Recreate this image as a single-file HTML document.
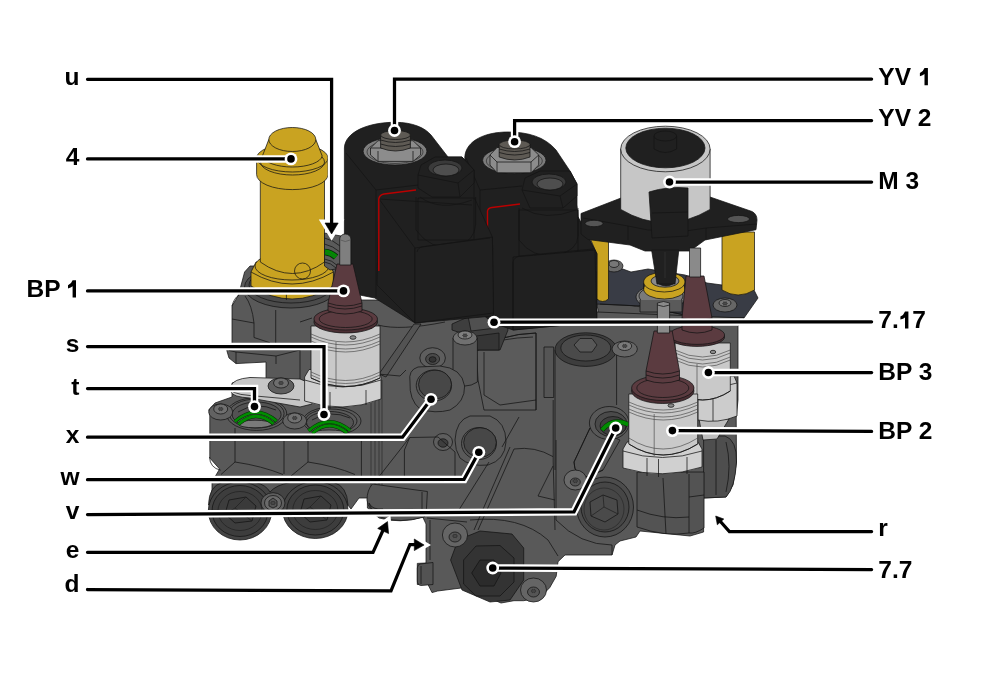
<!DOCTYPE html>
<html><head><meta charset="utf-8"><style>
html,body{margin:0;padding:0;background:#fff;width:985px;height:689px;overflow:hidden}
svg{display:block}
text{font-family:"Liberation Sans",sans-serif;font-weight:bold;font-size:24.5px;fill:#000}
svg{will-change:transform}
</style></head><body>
<svg width="985" height="689" viewBox="0 0 985 689">
<rect width="985" height="689" fill="#fff"/>
<g id="machine" stroke="#141414" stroke-width="0.75" stroke-linejoin="round">
<!-- ===== BACK: plate & posts behind M3 ===== -->
<path d="M596,300 L600,320 L740,322 L744,318 L700,316 Z" fill="#555"/>
<path d="M596,272 L610,266 L620,268 L631,272 L648,269 L685,275 L707,283 L722,285 L754,290 L758,298 L744,318 L700,318 L640,306 L596,304 Z" fill="#393c45"/>
<path d="M600,304 L640,306 L700,318 L744,318" fill="none"/>
<ellipse cx="614" cy="266" rx="9" ry="6" fill="#6a6a6a"/>
<ellipse cx="614" cy="264" rx="5" ry="3.5" fill="#777"/>
<ellipse cx="725" cy="305" rx="12" ry="7" fill="#666"/>
<ellipse cx="725" cy="303" rx="6" ry="3.5" fill="#777"/>
<path d="M590,238 L608.5,238 L608.5,299 Q602.6,304 596.8,299 L596.8,254 Z" fill="#c9a321"/>
<path d="M722,232 L754.5,232 L754.5,290 Q738,300 722,290 Z" fill="#c9a321"/>

<!-- ===== MAIN BODY SILHOUETTE ===== -->
<path d="M238.5,295 L244.6,272 L250,266 L335,266 L345,280 L345,300 L595,300 L597,312 L744,318 L738,326 L738,400 L736.2,418 L736.5,462 L733,485 L726,497 L703.6,498 L703.6,532 L690,536 L660,533 L640,531 L636,537 L620,541 L615,545 L612,555 L565,555 L558,561.7 L556.2,576.3 L549.7,587.7 L540,597.5 L523.7,600.7 L514,600.7 L501,603 L488,597.5 L475,592.6 L463.6,587.7 L437.6,591 L432,592.6 L428,584.5 L417.3,584.5 L417.3,563.4 L426,563 L426,524 L422.7,517 Q400,524 379,518 L367.4,508 L367.4,498 L359,498 L351,509 L340,495 L212,495 L212,482 L219.6,469 L209.8,458 L209.8,412 L208.7,410 L215,403 L232,397 L232,383 L250,378 L266,379 L266,362 L236,363.6 L229,358 L226.8,350.5 L232,345 L232,306 Z" fill="#595959"/>

<!-- ===== upper-left block under yellow ===== -->
<path d="M232,319 L254,323 L254,337.5 L269.8,342.7 M275.7,310 L275.7,343 M245,296 Q252,305 254,323 M232,306 Q234,298 239,295" fill="none"/>
<path d="M229,350.5 L236,352 L276,356 L276,364 M236,352 L236,363.6 M276,356 L300,350 L300,379" fill="none"/>
<path d="M300,322 L312,318" fill="none"/>
<!-- ===== lower-left block (ports t,s) ===== -->
<path d="M235,428 L235,462 M284,434 L284,474 M308,436 L308,462 M361.4,440 L361.4,476" fill="none"/>
<path d="M209.5,457 Q210,468 220.7,470.2 M235,462 Q262,466 283,474.5 M235,462 L221,474.5 M308,462 Q335,466 355,474.5 M308,462 L291,476" fill="none"/>
<path d="M212,482 L236,480 M262,482 L290,478" fill="none" stroke="#333"/>
<!-- port t -->
<ellipse cx="256.6" cy="414" rx="30.2" ry="16.4" fill="#5a5a5a"/>
<ellipse cx="256.6" cy="413.5" rx="27.5" ry="14.5" fill="none"/>
<ellipse cx="256.6" cy="414.5" rx="24.5" ry="12.5" fill="#525252"/>
<path d="M238,412 Q256,401 276,410" fill="none"/>
<ellipse cx="255" cy="424" rx="17" ry="3.8" fill="#7a7a7a"/>
<path d="M234.8,421.5 Q255.6,403.5 276.5,421" fill="none" stroke="#0a2a0a" stroke-width="3.6"/>
<path d="M238.5,424.3 Q255.6,408.5 273.5,423.8" fill="none" stroke="#0a2a0a" stroke-width="3.6"/>
<path d="M234.8,421.5 Q255.6,403.5 276.5,421" fill="none" stroke="#008c00" stroke-width="2.7"/>
<path d="M238.5,424.3 Q255.6,408.5 273.5,423.8" fill="none" stroke="#008c00" stroke-width="2.7"/>
<!-- port s -->
<ellipse cx="332" cy="421" rx="29" ry="14" fill="#5a5a5a"/>
<ellipse cx="331" cy="421" rx="26" ry="12" fill="none"/>
<ellipse cx="330" cy="422.5" rx="23.5" ry="11" fill="#545454"/>
<path d="M312,420 Q330,409 350,418" fill="none"/>
<ellipse cx="329" cy="433" rx="17" ry="3" fill="#7a7a7a"/>
<path d="M308.5,430.8 Q329,413 350.2,430.5" fill="none" stroke="#0a2a0a" stroke-width="3.6"/>
<path d="M312.5,433.3 Q329,418 347,433" fill="none" stroke="#0a2a0a" stroke-width="3.6"/>
<path d="M308.5,430.8 Q329,413 350.2,430.5" fill="none" stroke="#008c00" stroke-width="2.7"/>
<path d="M312.5,433.3 Q329,418 347,433" fill="none" stroke="#008c00" stroke-width="2.7"/>
<!-- screws near ports -->
<ellipse cx="220.7" cy="412" rx="12" ry="8" fill="#626262"/>
<ellipse cx="220.7" cy="409" rx="7" ry="5" fill="#707070"/>
<ellipse cx="294.7" cy="421" rx="12" ry="8" fill="#626262"/>
<ellipse cx="294.7" cy="418" rx="7" ry="5" fill="#707070"/>

<!-- ===== center body features ===== -->
<!-- shadow arc under YV1 -->
<path d="M378,325 Q400,331 445,322" fill="none"/>
<!-- diagonal rib -->
<path d="M379,374 L414,324 L421,324 L386,377 Z" fill="#535353"/>
<path d="M378,374 L400,376 L406,370" fill="none"/>
<!-- vertical pipe strip -->
<path d="M371,382 L371,500 M375,382 L375,500 M379,380 L379,500 M382,380 L382,497" fill="none" stroke="#222" stroke-width="0.6"/>
<!-- boss with hole -->
<ellipse cx="432.6" cy="358" rx="12.8" ry="10.3" fill="#5e5e5e"/>
<ellipse cx="432.6" cy="359" rx="7" ry="5.5" fill="#4a4a4a"/>
<ellipse cx="432.6" cy="359.5" rx="3.5" ry="2.8" fill="#333"/>
<!-- big cylinder boss -->
<path d="M476.4,351 Q500,334 536,333 L536,410 L484,410 L478,380 Z" fill="#5b5b5b"/>
<path d="M476.4,351 Q500,334 536,333 M480,347 Q500,338 533,337 M536,333 L536,410 M484,352 L484,395 L500,405 L536,400" fill="none"/>
<!-- 7.17 clip -->
<path d="M452,324 L470,316 L505,312 L508,330 L500,350 L476,350 L470,336 L452,330 Z" fill="#3e3e3e"/>
<path d="M468,316 L493.5,313 L496,328 L471,331 Z" fill="#505050"/>
<path d="M476,336 L499,333 L499,350 L477,350 Z" fill="#353535"/>
<!-- screw column -->
<path d="M453,338 L453,382 Q465,390 477.4,382 L477.4,338 Z" fill="#575757"/>
<ellipse cx="465" cy="338" rx="12" ry="7" fill="#707070"/>
<ellipse cx="465" cy="335" rx="7" ry="4" fill="#808080"/>
<!-- vertical rib right of cylinder -->
<path d="M544,347 L553.7,347 L553.7,397.5 L544,397.5 Z" fill="#555"/>
<!-- hex plug top -->
<path d="M555,350 L555,440 L616.6,440 L616.6,350 Z" fill="#565656" stroke="none"/>
<path d="M555,350 L555,470 M616.6,350 L616.6,405" fill="none"/>
<ellipse cx="585.8" cy="349.6" rx="30.8" ry="16.8" fill="#3d3d3d"/>
<ellipse cx="585.8" cy="348" rx="25" ry="13" fill="#4a4a4a"/>
<path d="M574,345 L580,338.5 L592,338.5 L597,345 L592,352 L580,352 Z" fill="#585858"/>
<ellipse cx="624.7" cy="349" rx="12.7" ry="8" fill="#666"/>
<ellipse cx="624.7" cy="346" rx="7" ry="4.5" fill="#7a7a7a"/>
<!-- port x housing -->
<path d="M410,382 Q408,370 418,367 L440,366 Q462,368 464.6,386 Q465,402 450,410 Q435,414 420,409 Q409,400 410,382 Z" fill="#5a5a5a"/>
<ellipse cx="433.9" cy="385.5" rx="17.7" ry="15.5" fill="#555"/>
<ellipse cx="435" cy="384.5" rx="16.5" ry="14.3" fill="#474747"/>
<!-- port w housing -->
<path d="M455,440 Q456,420 470,416 L490,416 Q506,422 506,442 Q505,460 488,465 Q470,467 460,458 Q455,450 455,440 Z" fill="#5a5a5a"/>
<ellipse cx="479" cy="443.5" rx="17.5" ry="16" fill="#555"/>
<ellipse cx="480" cy="442.5" rx="16.3" ry="14.8" fill="#474747"/>
<ellipse cx="443" cy="442" rx="9.5" ry="8.5" fill="#5e5e5e"/>
<ellipse cx="443" cy="443" rx="5" ry="4.2" fill="#3e3e3e"/>
<!-- pocket below x -->
<path d="M409.7,437.5 L438,437 L455,452 L455,477.5 L404.4,477.5 L404.4,450 Z" fill="none"/>
<path d="M409.7,437.5 L378.3,477.5" fill="none"/>
<!-- chamfer lines down center -->
<path d="M510,447 L474,530 M514,449 L478,530 M519,417 L502,447 M489,462 L457,513 M514,449 Q535,446 553,456.6 M553.2,400 L553.2,462 L555,530 M553,466 L538,496 L555,500 M427,518 L467,522" fill="none"/>
<!-- port v housing -->
<path d="M590,428 L574,462 Q574,476 588,477 L603,470 L620,440 Z" fill="#565656"/>
<path d="M590,428 L574,462 Q574,476 588,477 L603,470" fill="none"/>
<ellipse cx="609.2" cy="423" rx="19.8" ry="16.5" fill="#585858"/>
<ellipse cx="611" cy="424" rx="16" ry="12.5" fill="#4a4a4a"/>
<ellipse cx="613" cy="426" rx="13" ry="9.5" fill="#3e3e3e"/>
<path d="M602,430 Q613,417 628.5,424.5" fill="none" stroke="#0a2a0a" stroke-width="5"/>
<path d="M602,430 Q613,417 628.5,424.5" fill="none" stroke="#008c00" stroke-width="3.8"/>
<!-- screw at v -->
<ellipse cx="575.3" cy="480" rx="11.3" ry="10" fill="#6a6a6a"/>
<ellipse cx="575.3" cy="482" rx="5" ry="4" fill="#555"/>


<!-- ===== center bottom cylinder end ===== -->
<path d="M372.5,484 L427.4,491.5 L426.4,510 L424.3,517 Q400,524 380,517 Q368,510 367,500 Q367,490 372.5,484 Z" fill="#575757"/>
<path d="M369,503 Q372,510 383,509 L381,515 Q371,512 369,503 Z" fill="#4a4a4a"/>
<path d="M422,492 L422,513" fill="none"/>
<!-- ===== plugs bottom left ===== -->
<path d="M208.5,505 Q209,486 222,482.6 L256,482.6 Q266,485 270,492 Q276,485 290,482.6 L334,482.6 Q347,486 348,505 Z" fill="#434343"/>
<ellipse cx="240" cy="511" rx="31.7" ry="29" fill="#444"/>
<ellipse cx="240" cy="511" rx="28" ry="25.5" fill="#3d3d3d"/>
<ellipse cx="240" cy="511" rx="22" ry="19.5" fill="none" stroke="#222"/>
<path d="M229,500 L246,497 L256,506 L252,521 L235,523 L225,514 Z" fill="#3a3a3a"/>
<path d="M235,508 L246,497 M235,508 L225,514 M235,508 L252,521" fill="none" stroke="#222"/>
<ellipse cx="315.3" cy="510" rx="32.7" ry="28.5" fill="#444"/>
<ellipse cx="315.3" cy="510" rx="28.5" ry="25" fill="#3d3d3d"/>
<ellipse cx="315.3" cy="510" rx="22.5" ry="19.5" fill="none" stroke="#222"/>
<path d="M304,499 L321,496 L331,505 L327,520 L310,522 L300,513 Z" fill="#3a3a3a"/>
<path d="M310,507 L321,496 M310,507 L300,513 M310,507 L327,520" fill="none" stroke="#222"/>
<ellipse cx="273" cy="503" rx="12" ry="10.3" fill="#5e5e5e"/>
<ellipse cx="273" cy="503" rx="8.5" ry="7.5" fill="#6a6a6a"/>
<path d="M269,501 L273,498 L277,501 L277,506 L273,508 L269,506 Z" fill="#555"/>

<!-- ===== lower block 7.7 ===== -->
<path d="M430,520 L430,560" fill="none"/>
<path d="M450.6,560 L458,540 L480,531 L512,534 L523.7,548 L523.7,580 L510,600 L490,602 L462,590 Z" fill="#383838"/>
<path d="M463.6,560 L476,546 L500,545.5 L514,558 L514,582 L500,596 L476,596 L463.6,584 Z" fill="#333"/>
<path d="M471.7,573 L480,560 L494,560 L501,573 L494,586 L480,586 Z" fill="#2b2b2b"/>
<ellipse cx="455" cy="535" rx="12.6" ry="12" fill="#656565"/>
<ellipse cx="455" cy="537" rx="6" ry="5" fill="#555"/>
<ellipse cx="533.5" cy="590" rx="13" ry="12" fill="#656565"/>
<ellipse cx="533.5" cy="592" rx="6" ry="5" fill="#555"/>
<path d="M420,564 L433,562.5 L433,584.5 L421,585.5 Q417,585 417.3,580 L417.3,568 Q417.5,564.5 420,564 Z" fill="#535353"/>
<path d="M421,566 L421,584" fill="none"/>
<path d="M470,520 Q520,515 548,540 L558,556" fill="none"/>
<!-- ===== right bottom plug ===== -->
<path d="M556,440 L556,520 Q580,545 612,545 L612,555" fill="none"/>
<ellipse cx="605" cy="507" rx="28.5" ry="30" fill="#4c4c4c"/>
<ellipse cx="605" cy="507" rx="24" ry="25" fill="#464646"/>
<ellipse cx="604" cy="509" rx="20" ry="21" fill="none" stroke="#2a2a2a"/>
<path d="M590,502 L603,495 L617,500 L618,514 L605,522 L591,516 Z" fill="#4a4a4a"/>
<path d="M604,507 L603,495 M604,507 L591,516 M604,507 L618,514" fill="none" stroke="#222"/>
<!-- ===== right side dark part ===== -->
<path d="M703.6,436 L725,436 Q737,440 736.5,462 Q735,488 726,497 L703.6,498 Z" fill="#4e4e4e"/>
<path d="M716,440 L716,495 M726,442 Q732,466 726,492" fill="none"/>
<!-- torx marks -->
<path d="M223.3,409.0 L222.1,409.6 L222.0,410.8 L220.7,410.2 L219.4,410.8 L219.3,409.6 L218.1,409.0 L219.3,408.4 L219.4,407.2 L220.7,407.8 L222.0,407.2 L222.1,408.4 Z" fill="#4a4a4a" stroke="#222" stroke-width="0.5"/>
<path d="M297.3,418.0 L296.1,418.6 L296.0,419.8 L294.7,419.2 L293.4,419.8 L293.3,418.6 L292.1,418.0 L293.3,417.4 L293.4,416.2 L294.7,416.8 L296.0,416.2 L296.1,417.4 Z" fill="#4a4a4a" stroke="#222" stroke-width="0.5"/>
<path d="M467.6,335.5 L466.4,336.1 L466.3,337.3 L465.0,336.7 L463.7,337.3 L463.6,336.1 L462.4,335.5 L463.6,334.9 L463.7,333.7 L465.0,334.3 L466.3,333.7 L466.4,334.9 Z" fill="#4a4a4a" stroke="#222" stroke-width="0.5"/>
<path d="M627.3,346.0 L626.1,346.6 L626.0,347.8 L624.7,347.2 L623.4,347.8 L623.3,346.6 L622.1,346.0 L623.3,345.4 L623.4,344.2 L624.7,344.8 L626.0,344.2 L626.1,345.4 Z" fill="#4a4a4a" stroke="#222" stroke-width="0.5"/>
<path d="M577.9,481.0 L576.7,481.6 L576.6,482.8 L575.3,482.2 L574.0,482.8 L573.9,481.6 L572.7,481.0 L573.9,480.4 L574.0,479.2 L575.3,479.8 L576.6,479.2 L576.7,480.4 Z" fill="#4a4a4a" stroke="#222" stroke-width="0.5"/>
<path d="M275.6,503.0 L274.4,503.6 L274.3,504.8 L273.0,504.2 L271.7,504.8 L271.6,503.6 L270.4,503.0 L271.6,502.4 L271.7,501.2 L273.0,501.8 L274.3,501.2 L274.4,502.4 Z" fill="#4a4a4a" stroke="#222" stroke-width="0.5"/>
<path d="M457.6,536.0 L456.4,536.6 L456.3,537.8 L455.0,537.2 L453.7,537.8 L453.6,536.6 L452.4,536.0 L453.6,535.4 L453.7,534.2 L455.0,534.8 L456.3,534.2 L456.4,535.4 Z" fill="#4a4a4a" stroke="#222" stroke-width="0.5"/>
<path d="M536.1,591.0 L534.9,591.6 L534.8,592.8 L533.5,592.2 L532.2,592.8 L532.1,591.6 L530.9,591.0 L532.1,590.4 L532.2,589.2 L533.5,589.8 L534.8,589.2 L534.9,590.4 Z" fill="#4a4a4a" stroke="#222" stroke-width="0.5"/>
<path d="M727.6,303.5 L726.4,304.1 L726.3,305.3 L725.0,304.7 L723.7,305.3 L723.6,304.1 L722.4,303.5 L723.6,302.9 L723.7,301.7 L725.0,302.3 L726.3,301.7 L726.4,302.9 Z" fill="#4a4a4a" stroke="#222" stroke-width="0.5"/>


<!-- ===== light bracket (under BP1) ===== -->
<path d="M231,386 Q233,379 250,377.5 L300,379 L312,384 L312,404 L300,407 L250,398 Q233,397 231,392 Z" fill="#c6c6c6"/>
<path d="M233,392 Q240,395 250,395.5 L300,400" fill="none"/>
<ellipse cx="281" cy="386" rx="13" ry="8" fill="#5e5e5e"/>
<ellipse cx="281" cy="383" rx="7.5" ry="5" fill="#6e6e6e"/>
<path d="M283.6,383.0 L282.4,383.6 L282.3,384.8 L281.0,384.2 L279.7,384.8 L279.6,383.6 L278.4,383.0 L279.6,382.4 L279.7,381.2 L281.0,381.8 L282.3,381.2 L282.4,382.4 Z" fill="#4a4a4a" stroke="#222" stroke-width="0.5"/>

<!-- ===== yellow ring under M3 ===== -->
<ellipse cx="661" cy="297" rx="25" ry="12" fill="#7a7a7a"/>
<ellipse cx="661" cy="296" rx="22" ry="10" fill="none"/>
<path d="M640,300 L640,312 L682,312 L682,300" fill="#5a5a5a"/>
<ellipse cx="664.3" cy="289" rx="20.7" ry="10" fill="#c9a321"/>
<path d="M643.6,283 L643.6,289 M685,283 L685,289" fill="none"/>
<ellipse cx="664.3" cy="282" rx="20.7" ry="10" fill="#c9a321"/>
<ellipse cx="665" cy="281" rx="14" ry="6.2" fill="#8a8a8a"/>
<path d="M657,268 L675,268 L673,284 Q666,288 659,284 Z" fill="#202020"/>

<!-- ===== YV2 solenoid ===== -->
<path d="M465,300 L464.8,157 C466,140 486,132 508,132 C528,132 545,137 556,150 L570,171 L577,184 L577,205 L578,217 L597,254 L596.8,322 L513,330 L493,323 Z" fill="#202020"/>
<path d="M466,158 L480,190 L480,300 M480,190 L522,186" fill="none"/>
<path d="M487.5,230 L487.5,211 Q488,208 492,207.5 L520,204" fill="none" stroke="#b00" stroke-width="1.4"/>
<ellipse cx="514.3" cy="160.3" rx="31.7" ry="13.3" fill="#7c7c7c"/>
<ellipse cx="514.3" cy="161" rx="28" ry="11" fill="none" stroke="#333"/>
<path d="M490,155 L497,147.5 L531,147.5 L538.7,155 L538.7,165 L531,172.8 L497,172.8 L490,165 Z" fill="#8c8c8c"/>
<path d="M497,162 L497,172.8 M531,162 L531,172.8 M490,155 L497,162 L531,162 L538.7,155" fill="none"/>
<path d="M499.2,144.5 L499.2,157 Q514.6,163 530,157 L530,144.5 Z" fill="#5e5a54"/>
<ellipse cx="514.6" cy="144.5" rx="15.4" ry="4.5" fill="#5e5a54"/>
<path d="M499.2,149 Q514.6,154 530,149 M499.2,152.5 Q514.6,157.5 530,152.5" fill="none"/>
<path d="M519,210 L519,260 L578,260 L578,210 Z" fill="#202020"/>
<path d="M522,190 L525,178 L540,171 L570,171 L577,184 L577,196 L563,208 L530,208 Z" fill="#202020"/>
<path d="M522,190 L560,196 L577,184 M560,196 L563,208" fill="none"/>
<path d="M519,208 L519,240 Q532,258 556,256 Q578,250 578,236 L578,208 M522,208 Q545,222 576,210" fill="none"/>
<ellipse cx="549" cy="182" rx="17" ry="8" fill="#3a3a3a"/>
<ellipse cx="550" cy="184" rx="13" ry="6" fill="#4e4e4e"/>
<path d="M513,257 L595,250 L596.8,322 L513,330 Z" fill="#202020"/>
<path d="M578,217 L597,254" fill="none"/>
<path d="M513,262 L513,330 M513,262 Q514,257 520,256 L593,249" fill="none"/>

<!-- ===== M3 bracket + motor ===== -->
<path d="M581,213.5 L621,198 L710,197 L752,211.5 Q757,214 757,220 L756,229.7 L705,240 L690,251 L645,251 L630,245 L588,239.5 L581,234 Z" fill="#202020"/>
<path d="M583,218 L628,226 L628,240 M757,224 L706,228 L706,240 M628,226 Q667,236 706,228" fill="none"/>
<path d="M651.6,250 L678.8,250 L675,284 L657,284 Z" fill="#202020"/>
<path d="M665,252 L665,278" fill="none" stroke="#333"/>
<path d="M620.7,149 L620.7,209.4 Q665.4,236 710.1,209.4 L710.1,149 Z" fill="#c6c6c6"/>
<ellipse cx="665.4" cy="149" rx="44.7" ry="22.8" fill="#c6c6c6"/>
<ellipse cx="665.4" cy="148" rx="39.6" ry="19.8" fill="#202020"/>
<path d="M654,136 L654,149 Q665.3,156 676.6,149 L676.6,136 Z" fill="#202020"/>
<ellipse cx="665.3" cy="136" rx="11.3" ry="5" fill="#202020"/>
<path d="M649,192 Q668,186 688,188 L688,236 L652,238 Z" fill="#202020"/>
<path d="M652,213 L688,212" fill="none"/>
<ellipse cx="594" cy="223.5" rx="9" ry="3.2" fill="#555"/>
<ellipse cx="738.5" cy="219" rx="11" ry="3.6" fill="#555"/>

<!-- ===== YV1 solenoid ===== -->
<path d="M344.4,292 L344.4,148 C345,132 368,122.3 395,122.3 C413,122.3 425,128 431,135 L448,157 L462,157 L474,170 L474,197 L492.4,237 L493.5,316 L415,323 L374.8,298 Z" fill="#202020"/>
<path d="M346,153 L376,190 L418,185" fill="none"/>
<path d="M376,190 L376,297" fill="none"/>
<ellipse cx="395" cy="151.2" rx="31.9" ry="13.8" fill="#7e7e7e"/>
<ellipse cx="395" cy="152" rx="28" ry="11.5" fill="none" stroke="#333"/>
<path d="M370.5,148 L378,140.7 L413,140.7 L420.6,148 L420.6,155 L413,161.4 L378,161.4 L370.5,155 Z" fill="#8c8c8c"/>
<path d="M378,151 L378,161.4 M413,151 L413,161.4 M370.5,148 L420.6,148" fill="none"/>
<path d="M380.6,135 L380.6,148 Q395.5,154 410.4,148 L410.4,135 Z" fill="#5e5a54"/>
<ellipse cx="395.5" cy="135" rx="14.9" ry="4.5" fill="#5e5a54"/>
<path d="M380.6,140 Q395.5,145 410.4,140 M380.6,144 Q395.5,149 410.4,144" fill="none"/>
<path d="M418,198 L418,240 L474,240 L474,198 Z" fill="#202020"/>
<path d="M418,175 L421,165 L435,157 L462,157 L474,170 L474,183 L460,197 L432,197 L418,188 Z" fill="#202020"/>
<path d="M418,175 L458,183 L474,170 M458,183 L460,197" fill="none"/>
<path d="M416,197 L416,230 Q430,250 456,248 Q475,240 475.6,225 L475.6,197 M420,197 Q440,212 472,200" fill="none"/>
<ellipse cx="445" cy="168" rx="17" ry="8" fill="#3a3a3a"/>
<ellipse cx="446" cy="170" rx="13" ry="6" fill="#4e4e4e"/>
<path d="M379,199 L415,248 L415,323 L377,285 Z" fill="#202020"/>
<path d="M415,248 L492.4,237 L493.5,313 L415,323 Z" fill="#202020"/>
<path d="M379,199 L472,205 M417,252 Q418,247 424,246.5 L490,238" fill="none"/>
<path d="M378.8,271 L378.8,199 Q379.3,195 384,194 L416,190" fill="none" stroke="#b00" stroke-width="1.4"/>

<!-- ===== yellow cylinder 4 ===== -->
<ellipse cx="291" cy="287" rx="46.5" ry="21" fill="#4a4a4a"/>
<ellipse cx="291" cy="285" rx="42" ry="18" fill="none"/>
<path d="M251,272 L256,262 L328,262 L333.4,272 L333.4,286 Q292,312 251,286 Z" fill="#c9a321"/>
<path d="M286.4,288 L286.4,300 M251,272 Q292,296 333.4,272" fill="none"/>
<ellipse cx="292" cy="266" rx="37" ry="14" fill="#c9a321"/>
<path d="M260.3,170 L324.5,170 L324.5,262 Q292.4,285 260.3,262 Z" fill="#c9a321"/>
<circle cx="302.5" cy="271" r="8" fill="none"/>
<path d="M256.6,158 L256.6,174.6 A35.7,15 0 0 0 328,174.6 L328,158 Z" fill="#c9a321"/>
<ellipse cx="292.3" cy="158" rx="35.7" ry="14" fill="#c9a321"/>
<ellipse cx="292.5" cy="162" rx="32" ry="13" fill="none"/>
<path d="M262.4,156 L268.8,139.5 L315.8,139.5 L322.2,156 A30,12 0 0 1 262.4,156 Z" fill="#c9a321"/>
<ellipse cx="292.3" cy="139.5" rx="23.5" ry="12" fill="#c9a321"/>
<!-- o-ring holder right of yellow (u target) -->
<path d="M324.5,233 L341,236 L341,268 L330,270 L324.5,266 Z" fill="#5a5a5a"/>
<path d="M324.5,238 Q333,240 340,246 M324.5,244 Q333,246 340,252 M324.5,259 Q332,260 338,266 M324.5,262 Q331,263 336,268" fill="none"/>
<path d="M325,252 Q331,252.5 336,257" fill="none" stroke="#0a2a0a" stroke-width="6.5"/>
<path d="M325,252 Q331,252.5 336,257" fill="none" stroke="#008c00" stroke-width="5"/>
<path d="M325,252.3 Q331,252.8 336,257.3" fill="none" stroke="#2a5a2a" stroke-width="0.6"/>

<!-- ===== BP3 sensor ===== -->
<path d="M699,419 L729,419 L717,439 L703,440 Z" fill="#bdbdbd"/>
<path d="M698,382 L703,377 L734,376 L737,383 L737,416 Q718,424 698,420 Z" fill="#cccccc"/>
<path d="M713,378 L713,421 M698,384 Q718,389 737,383" fill="none"/>
<path d="M675,343 L730.3,343 L730.3,391 Q702.6,409 675,391 Z" fill="#c9c9c9"/>
<path d="M675,391 Q702.6,409 730.3,391" fill="none"/>
<path d="M675,350 Q702.6,364 730.3,350 M675,353 Q702.6,367 730.3,353 M675,357 Q702.6,371 730.3,357 M675,360 Q702.6,374 730.3,360 M697,364 L697,400" fill="none" stroke="#3a3a3a" stroke-width="0.6"/>
<ellipse cx="713" cy="352" rx="2.8" ry="1.7" fill="#8a8a8a"/>
<ellipse cx="697" cy="337" rx="27.6" ry="9.4" fill="#4a2e33"/>
<ellipse cx="697" cy="335" rx="27.6" ry="9.4" fill="#5b3b40"/>
<path d="M686,276 L704,276 L712,318 L712,330 Q697,336 682,330 L682,318 Z" fill="#5b3b40"/>
<path d="M682,318 Q697,323 712,318" fill="none"/>
<path d="M689.5,248 L700.6,248 L700.6,277 L689.5,277 Z" fill="#8a8a8a"/>

<!-- ===== BP2 sensor ===== -->
<path d="M637,472 L704,472 L704,528 Q695,534 689,533 Q665,537 637,527 Z" fill="#535353"/>
<path d="M689,474 L689,533 M637,510 Q663,520 689,517 M689,497 L704,495 M663,478 L666,534" fill="none"/>
<path d="M623,449 L627,442 L698,442 L702,449 L702,467 Q662.5,480 623,468 Z" fill="#d0d0d0"/>
<path d="M623,451 Q662.5,464 702,451 M647,458 L647,476 M658.5,459 L658.5,477 M687,457 L687,474" fill="none"/>
<path d="M628.8,394 L697.7,394 L697.7,444 Q663,466 628.8,444 Z" fill="#c9c9c9"/>
<path d="M628.8,444 Q663,466 697.7,444" fill="none"/>
<path d="M628.8,402 Q663,418 697.7,402 M628.8,405 Q663,421 697.7,405 M628.8,409 Q663,425 697.7,409 M628.8,412 Q663,428 697.7,412 M654.2,414 L654.2,456" fill="none" stroke="#3a3a3a" stroke-width="0.6"/>
<path d="M628.8,438 Q663,460 697.7,438" fill="none" stroke="#3a3a3a" stroke-width="0.6"/>
<ellipse cx="671" cy="405.5" rx="3" ry="1.8" fill="#8a8a8a"/>
<ellipse cx="662.8" cy="391" rx="31.2" ry="12.5" fill="#4a2e33"/>
<ellipse cx="662.8" cy="388" rx="31.2" ry="12.5" fill="#5b3b40"/>
<ellipse cx="662.8" cy="388" rx="26" ry="9.5" fill="none"/>
<path d="M654,331 L672.2,331 L679.5,371 L679.5,380 Q662.8,386 646,380 L646,371 Z" fill="#5b3b40"/>
<path d="M646,371 Q662.8,377 679.5,371 M646,375 Q662.8,381 679.5,375" fill="none"/>
<path d="M657.4,303 Q663.5,300 669.6,303 L669.6,333 L657.4,333 Z" fill="#8a8a8a"/>
<path d="M657.4,305 Q663.5,308 669.6,305" fill="none"/>

<!-- ===== BP1 sensor ===== -->
<path d="M304.6,377 L309,369.5 L378.5,369.5 L381,377 L381,399 Q343,414 304.6,401 Z" fill="#d0d0d0"/>
<path d="M330,392 L330,409 M366,390 L366,405 M304.6,380 Q343,394 381,380" fill="none"/>
<path d="M311,326 L380,326 L380,378 Q345.5,395 311,378 Z" fill="#c9c9c9"/>
<path d="M311,378 Q345.5,395 380,378" fill="none"/>
<path d="M311,334 Q345.5,350 380,334 M311,337 Q345.5,353 380,337 M311,341 Q345.5,357 380,341 M311,344 Q345.5,360 380,344 M336,342 L336,389" fill="none" stroke="#3a3a3a" stroke-width="0.6"/>
<path d="M311,372 Q345.5,389 380,372 M311,375 Q345.5,392 380,375" fill="none" stroke="#3a3a3a" stroke-width="0.6"/>
<ellipse cx="353" cy="337.5" rx="3" ry="1.8" fill="#8a8a8a"/>
<ellipse cx="345.7" cy="322" rx="31.8" ry="11" fill="#4a2e33"/>
<ellipse cx="345.7" cy="319" rx="31.8" ry="11" fill="#5b3b40"/>
<ellipse cx="345.7" cy="319" rx="26.5" ry="8.5" fill="none"/>
<path d="M337,264 L353,264 L362,303 L362,311 Q345,317 328,311 L328,303 Z" fill="#5b3b40"/>
<path d="M328,303 Q345,309 362,303 M328,306 Q345,312 362,306" fill="none"/>
<path d="M339.7,239 A5.6,5 0 0 1 350.9,239 L350.9,265 L339.7,265 Z" fill="#7f7f7f"/>
<path d="M340.5,240 Q345.3,243 350,240" fill="none" stroke="#555"/>
</g>
<!-- leader lines -->
<g fill="none" stroke-linejoin="miter" stroke-linecap="round">
<g stroke="#fff" stroke-width="7.5">
<path d="M87.5,79.3 H331.6 V226"/>
<path d="M87.5,158.9 H291"/>
<path d="M87.5,290.9 H343.5"/>
<path d="M87.5,346.6 H324 V414.5"/>
<path d="M87.5,388.5 H254.5 V406.6"/>
<path d="M87.5,437.2 H402.5 L431,399.3"/>
<path d="M87.5,479.7 L464,479.4 L478.8,452.3"/>
<path d="M87.5,514.5 L574,511.8 L615.7,428"/>
<path d="M87.5,552.3 H373 L384.5,527"/>
<path d="M87.5,589.5 L391,590.9 L410,544.5 H416"/>
<path d="M871.6,79 H394.5 V130.5"/>
<path d="M871.6,120.5 H514.6 V141.7"/>
<path d="M871.6,182 H669.5"/>
<path d="M871.6,321.8 L494,322.2"/>
<path d="M871.6,372.5 H708.4"/>
<path d="M871.6,431.4 L672.4,430.6"/>
<path d="M871.6,531.5 H729.4 L720,521"/>
<path d="M871.6,569.6 L492.7,568"/>
</g>
<g stroke="#fff" stroke-width="7" fill="#fff" stroke-linejoin="miter" stroke-miterlimit="10">
<path d="M325,223 L338.2,223 L331.6,234 Z"/>
<path d="M377.7,528.5 L388.6,533.6 L387.5,521.6 Z"/>
<path d="M414.3,539 L414.3,550.6 L424.1,545 Z"/>
<path d="M723.8,519 L717.3,524.8 L715.7,516 Z"/>
</g>
<g stroke="#000" stroke-width="3.25">
<path d="M87.5,79.3 H331.6 V226"/>
<path d="M87.5,158.9 H291"/>
<path d="M87.5,290.9 H343.5"/>
<path d="M87.5,346.6 H324 V414.5"/>
<path d="M87.5,388.5 H254.5 V406.6"/>
<path d="M87.5,437.2 H402.5 L431,399.3"/>
<path d="M87.5,479.7 L464,479.4 L478.8,452.3"/>
<path d="M87.5,514.5 L574,511.8 L615.7,428"/>
<path d="M87.5,552.3 H373 L384.5,527"/>
<path d="M87.5,589.5 L391,590.9 L410,544.5 H416"/>
<path d="M871.6,79 H394.5 V130.5"/>
<path d="M871.6,120.5 H514.6 V141.7"/>
<path d="M871.6,182 H669.5"/>
<path d="M871.6,321.8 L494,322.2"/>
<path d="M871.6,372.5 H708.4"/>
<path d="M871.6,431.4 L672.4,430.6"/>
<path d="M871.6,531.5 H729.4 L720,521"/>
<path d="M871.6,569.6 L492.7,568"/>
</g>
</g>
<g fill="#fff"><circle cx="291" cy="158.9" r="6.4"/><circle cx="343.5" cy="290.9" r="6.4"/><circle cx="324" cy="414.5" r="6.4"/><circle cx="254.5" cy="406.6" r="6.4"/><circle cx="431" cy="399.3" r="6.4"/><circle cx="478.8" cy="452.3" r="6.4"/><circle cx="615.7" cy="428" r="6.4"/><circle cx="394.5" cy="130.5" r="6.4"/><circle cx="514.6" cy="141.7" r="6.4"/><circle cx="669.5" cy="182" r="6.4"/><circle cx="494" cy="322.2" r="6.4"/><circle cx="708.4" cy="372.5" r="6.4"/><circle cx="672.4" cy="430.6" r="6.4"/><circle cx="492.7" cy="568" r="6.4"/></g>
<g fill="#000"><circle cx="291" cy="158.9" r="3.8"/><circle cx="343.5" cy="290.9" r="3.8"/><circle cx="324" cy="414.5" r="3.8"/><circle cx="254.5" cy="406.6" r="3.8"/><circle cx="431" cy="399.3" r="3.8"/><circle cx="478.8" cy="452.3" r="3.8"/><circle cx="615.7" cy="428" r="3.8"/><circle cx="394.5" cy="130.5" r="3.8"/><circle cx="514.6" cy="141.7" r="3.8"/><circle cx="669.5" cy="182" r="3.8"/><circle cx="494" cy="322.2" r="3.8"/><circle cx="708.4" cy="372.5" r="3.8"/><circle cx="672.4" cy="430.6" r="3.8"/><circle cx="492.7" cy="568" r="3.8"/></g>
<g fill="#000" stroke="#000" stroke-width="0.6" stroke-linejoin="miter">
<path d="M325,223 L338.2,223 L331.6,234 Z"/>
<path d="M377.7,528.5 L388.6,533.6 L387.5,521.6 Z"/>
<path d="M414.3,539 L414.3,550.6 L424.1,545 Z"/>
<path d="M723.8,519 L717.3,524.8 L715.7,516 Z"/>
</g>
<!-- labels -->
<g text-anchor="end">
<text x="79.5" y="84.8">u</text>
<text x="79.5" y="164.8">4</text>
<text x="79.5" y="352.3">s</text>
<text x="79.5" y="395.3">t</text>
<text x="79.5" y="442.8">x</text>
<text x="79.5" y="485.3">w</text>
<text x="79.5" y="518.8">v</text>
<text x="79.5" y="557.8">e</text>
<text x="79.5" y="591.8">d</text>
</g>
<g>
<text x="26.5" y="296.8">BP</text>
<text x="878.3" y="84.8">YV</text>
<text x="878.3" y="126.3">YV 2</text>
<text x="878.3" y="188.8">M 3</text>
<text x="878.3" y="328.3">7.</text>
<text x="912.3" y="328.3">7</text>
<text x="878.3" y="380.3">BP 3</text>
<text x="878.3" y="438.8">BP 2</text>
<text x="878.3" y="536.3">r</text>
<text x="878.3" y="578.3">7.7</text>
</g>
<g fill="#000">
<path d="M72.6,280.3 L76.0,280.3 L76.0,297.4 L72.6,297.4 L72.6,286.3 Q71.0,287.7 68.0,288.5 L68.0,285.3 Q71.4,283.9 72.6,280.3 Z"/>
<path d="M924.5,68.1 L927.9,68.1 L927.9,85.3 L924.5,85.3 L924.5,74.1 Q922.9,75.5 919.9,76.3 L919.9,73.1 Q923.3,71.7 924.5,68.1 Z"/>
<path d="M905.0,311.4 L908.4,311.4 L908.4,328.6 L905.0,328.6 L905.0,317.4 Q903.4,318.8 900.4,319.6 L900.4,316.4 Q903.8,315.0 905.0,311.4 Z"/>
</g>
</svg>
</body></html>
